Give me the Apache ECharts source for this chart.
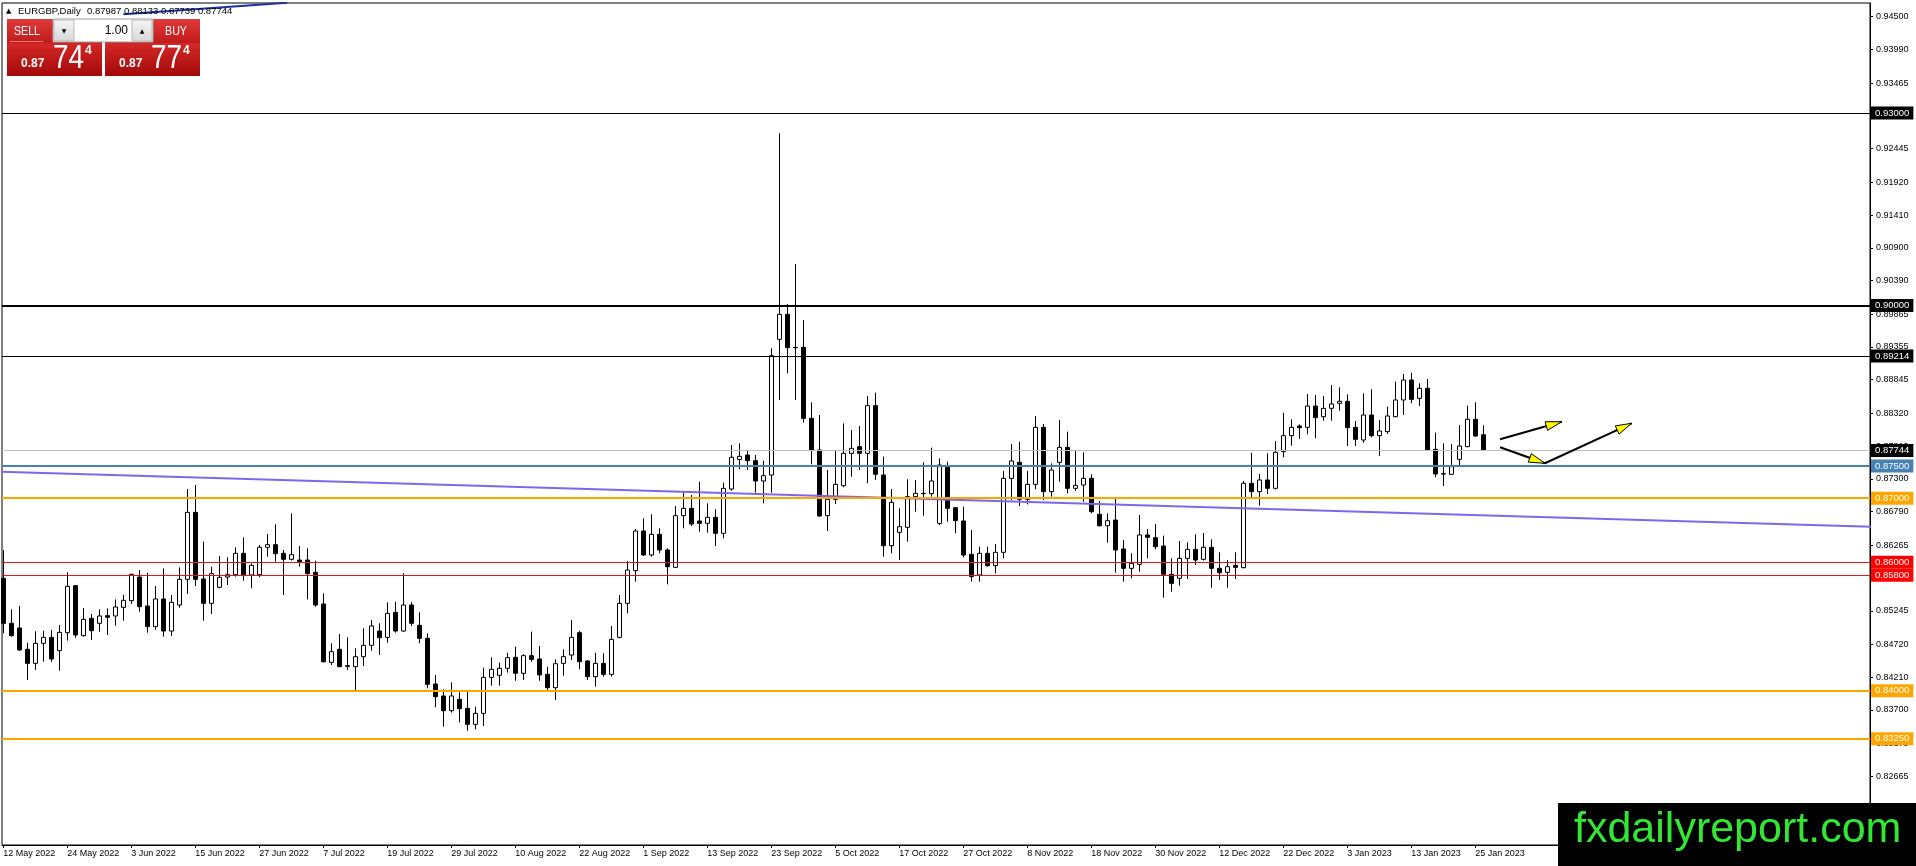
<!DOCTYPE html>
<html><head><meta charset="utf-8">
<script src="https://cdn.jsdelivr.net/npm/echarts@6/dist/echarts.min.js"></script>
<style>html,body{margin:0;padding:0;background:#fff;overflow:hidden}#c{width:1916px;height:866px}</style>
</head><body><div id="c"></div><script>
// ---- data ----
const symbolName = 'EURGBP,Daily';
const headerValues = ['0.87987', '0.88133', '0.87739', '0.87744'];
const dateLabels = ['12 May 2022','24 May 2022','3 Jun 2022','15 Jun 2022','27 Jun 2022','7 Jul 2022','19 Jul 2022','29 Jul 2022','10 Aug 2022','22 Aug 2022','1 Sep 2022','13 Sep 2022','23 Sep 2022','5 Oct 2022','17 Oct 2022','27 Oct 2022','8 Nov 2022','18 Nov 2022','30 Nov 2022','12 Dec 2022','22 Dec 2022','3 Jan 2023','13 Jan 2023','25 Jan 2023'];
const barsPerDateLabel = 8;
const yTickLabels = ['0.94500','0.93990','0.93465','0.92955','0.92445','0.91920','0.91410','0.90900','0.90390','0.89865','0.89355','0.88845','0.88320','0.87810','0.87300','0.86790','0.86265','0.85755','0.85245','0.84720','0.84210','0.83700','0.83175','0.82665'];
// daily bars: [open, high, low, close]
const ohlc = [
[.85751,.86192,.84894,.85050],[.85050,.85268,.84842,.84857],[.84977,.85320,.84619,.84634],[.84645,.84748,.84167,.84426],
[.84426,.84925,.84323,.84738],[.84738,.84935,.84452,.84831],[.84831,.84946,.84452,.84494],[.84624,.85024,.84312,.84909],
[.84904,.85844,.84780,.85626],[.85636,.85647,.84826,.84868],[.84857,.85288,.84842,.85112],[.85127,.85195,.84790,.84935],
[.85050,.85268,.84920,.85164],[.85169,.85283,.84868,.85143],[.85164,.85423,.85013,.85304],[.85299,.85491,.85091,.85408],
[.85403,.85823,.85351,.85813],[.85771,.85880,.85231,.85309],[.85320,.85839,.84904,.84998],[.84998,.85631,.84946,.85429],
[.85429,.85906,.84842,.84930],[.84930,.85491,.84852,.85377],[.85335,.85922,.85294,.85735],[.85735,.87142,.85507,.86779],
[.86779,.87205,.85631,.85735],[.85740,.86322,.85091,.85361],[.85361,.85932,.85195,.85823],[.85610,.86099,.85595,.85766],
[.85771,.86078,.85647,.85808],[.85808,.86234,.85777,.86140],[.86140,.86389,.85714,.85808],[.85803,.85984,.85595,.85953],
[.85808,.86270,.85766,.86234],[.86234,.86441,.86088,.86275],[.86275,.86592,.86010,.86135],[.86140,.86192,.85491,.86047],
[.86047,.86763,.86026,.86119],[.86036,.86254,.85932,.86010],[.86036,.86218,.85423,.85823],[.85844,.86026,.85309,.85335],
[.85351,.85517,.84437,.84452],[.84442,.84738,.84400,.84608],[.84645,.84883,.84370,.84374],[.84390,.84831,.84323,.84380],
[.84374,.84660,.84011,.84530],[.84530,.84972,.84385,.84707],[.84707,.85101,.84624,.85008],[.84930,.85050,.84556,.84826],
[.84831,.85377,.84748,.85205],[.85221,.85387,.84904,.84930],[.84930,.85829,.84920,.85335],[.85335,.85377,.85008,.85050],
[.85018,.85221,.84738,.84816],[.84816,.84894,.84037,.84099],[.84104,.84245,.83741,.83907],[.83918,.84021,.83440,.83689],
[.83689,.84130,.83658,.83918],[.83866,.83975,.83507,.83720],[.83725,.83985,.83377,.83476],[.83476,.83751,.83398,.83647],
[.83647,.84359,.83450,.84208],[.84208,.84520,.84078,.84333],[.84239,.84437,.84078,.84349],[.84349,.84593,.84281,.84515],
[.84520,.84686,.84156,.84271],[.84271,.84572,.84167,.84546],[.84546,.84920,.84452,.84489],[.84494,.84696,.84156,.84245],
[.84255,.84374,.84011,.84047],[.84047,.84489,.83855,.84421],[.84426,.84644,.84234,.84530],[.84556,.85101,.84478,.84831],
[.84904,.84935,.84333,.84452],[.84463,.84478,.84167,.84219],[.84219,.84593,.84063,.84426],[.84426,.84582,.84219,.84255],
[.84255,.85008,.84219,.84800],[.84831,.85491,.84816,.85361],[.85361,.86021,.85205,.85880],[.85870,.86519,.85699,.86488],
[.86488,.86685,.86099,.86114],[.86114,.86748,.86088,.86436],[.86436,.86530,.86140,.86192],[.86192,.86218,.85657,.85932],
[.85922,.86877,.85915,.86727],[.86727,.87085,.86530,.86841],[.86841,.87049,.86566,.86597],[.86644,.87257,.86478,.86607],
[.86607,.86919,.86462,.86701],[.86701,.86826,.86254,.86452],[.86452,.87241,.86374,.87153],[.87142,.87828,.87116,.87636],
[.87604,.87854,.87449,.87651],[.87672,.87750,.87438,.87584],[.87584,.87672,.87085,.87267],[.87267,.87584,.86919,.87350],
[.87360,.89334,.87085,.89219],[.89474,.92683,.88529,.89863],[.89863,.90024,.88944,.89344],[.89349,.90648,.88529,.89344],
[.89349,.89775,.88176,.88243],[.88243,.88492,.87527,.87750],[.87750,.88295,.86711,.86722],[.86727,.87438,.86488,.86981],
[.86981,.87750,.86909,.87215],[.87194,.88165,.87168,.87698],[.87698,.88061,.87334,.87776],[.87802,.88124,.87438,.87698],
[.87698,.88591,.87231,.88441],[.88441,.88643,.87283,.87371],[.87360,.87646,.86088,.86259],[.86259,.87142,.86140,.86935],
[.86467,.86841,.86036,.86555],[.86545,.87293,.86322,.87023],[.87023,.87283,.86789,.87075],[.87075,.87558,.86727,.87070],
[.87070,.87786,.87023,.87267],[.86607,.87620,.86580,.87516],[.87506,.87568,.86633,.86841],[.86851,.86860,.86452,.86649],
[.86644,.86867,.86078,.86114],[.86124,.86504,.85699,.85777],[.85803,.86244,.85699,.86140],[.86140,.86244,.85932,.85948],
[.85948,.86285,.85828,.86156],[.86156,.87423,.86062,.87308],[.87308,.87843,.86971,.87579],[.87558,.87880,.86877,.86981],
[.86981,.87423,.86903,.87215],[.87215,.88280,.87137,.88103],[.88103,.88155,.86971,.87101],[.87101,.87542,.87023,.87438],
[.87558,.88217,.87257,.87791],[.87791,.88036,.87075,.87153],[.87153,.87750,.87116,.87199],[.87205,.87714,.86945,.87308],
[.87308,.87371,.86763,.86789],[.86748,.86955,.86555,.86571],[.86571,.86763,.86306,.86649],[.86659,.86987,.85839,.86192],
[.86208,.86348,.85699,.85906],[.85906,.86140,.85751,.85984],[.85969,.86737,.85854,.86426],[.86426,.86519,.86062,.86389],
[.86384,.86597,.86202,.86244],[.86254,.86415,.85449,.85813],[.85813,.86062,.85543,.85673],[.85751,.86332,.85636,.86062],
[.86062,.86311,.85740,.86202],[.86202,.86436,.85958,.86036],[.86047,.86457,.86026,.86234],[.86234,.86358,.85605,.85906],
[.85906,.86156,.85725,.85839],[.85844,.86036,.85605,.85932],[.85953,.86156,.85740,.85922],[.85917,.87267,.85906,.87231],
[.87231,.87708,.87007,.87101],[.87101,.87376,.86883,.87283],[.87283,.87698,.87064,.87153],[.87153,.87890,.87137,.87714],
[.87724,.88332,.87636,.87973],[.87973,.88228,.87817,.88103],[.88124,.88150,.87921,.88098],[.88103,.88622,.87994,.88435],
[.88435,.88607,.87932,.88254],[.88269,.88591,.88207,.88399],[.88399,.88763,.88207,.88467],[.88477,.88726,.88363,.88508],
[.88508,.88617,.87812,.88098],[.88103,.88202,.87812,.87916],[.87906,.88633,.87864,.88295],[.88295,.88695,.87947,.87973],
[.87973,.88217,.87656,.88046],[.88036,.88425,.87999,.88280],[.88269,.88815,.88259,.88529],[.88529,.88934,.88295,.88840],
[.88840,.88955,.88477,.88539],[.88555,.88789,.88435,.88711],[.88711,.88856,.87740,.87750],[.87760,.88020,.87324,.87376],
[.87380,.87854,.87189,.87376],[.87371,.87843,.87360,.87490],[.87604,.88139,.87501,.87812],[.87802,.88441,.87792,.88228],
[.88228,.88493,.87958,.87968],[.87987,.88133,.87739,.87744]
];
// horizontal levels
const levels = [0.93000, 0.90000, 0.89214, 0.87744, 0.87500, 0.87000, 0.86000, 0.85800, 0.84000, 0.83250];
// trend lines: [barIndex, price]
const purpleTrend = [[-1, 0.87414], [234, 0.86553]];
const blueTrend = [[15, 0.94538], [35.5, 0.94718]];
// arrows: [fromBar, fromPrice, toBar, toPrice]
const arrowLines = [[187.1, 0.87917, 194.8, 0.88191], [187.1, 0.87792, 192.7, 0.87543], [192.7, 0.87543, 203.55, 0.88166]];
const sellPrice = ['0.87', '74', '4'];
const buyPrice = ['0.87', '77', '4'];
const lotSize = '1.00';
const watermark = 'fxdailyreport.com';

// ---- styles ----
const levelStyles = [
  {color:'#000000', width:1, bg:'#000000'},
  {color:'#000000', width:2, bg:'#000000'},
  {color:'#000000', width:1, bg:'#000000'},
  {color:'#c0c0c0', width:1, bg:'#000000'},
  {color:'#4682b4', width:2, bg:'#4682b4'},
  {color:'#ffa500', width:2, bg:'#ffa500'},
  {color:'#e5141c', width:1, bg:'#ff0000'},
  {color:'#e5141c', width:1, bg:'#ff0000'},
  {color:'#ffa500', width:2, bg:'#ffa500'},
  {color:'#ffa500', width:2, bg:'#ffa500'}
];
const FONT = '"Liberation Sans", Arial, sans-serif';
const X_MIN = -0.1625, X_MAX = 233.3375;
const Y_MAX = 0.947137, Y_MIN = 0.815962;

const chart = echarts.init(document.getElementById('c'), null, {renderer:'canvas'});

const candleData = ohlc.map((r, i) => [i, r[0], r[3], r[2], r[1]]);
const xTickPos = dateLabels.map((_, k) => k * barsPerDateLabel);
const yTicks = yTickLabels.map(Number);

const markLineData = levels.map((v, i) => ({
  yAxis: v,
  lineStyle: {color: levelStyles[i].color, width: levelStyles[i].width, type: 'solid'},
  label: {show: true, position: 'end', distance: 1, formatter: () => v.toFixed(5),
    backgroundColor: levelStyles[i].bg, color: '#fff', fontSize: 9.5, fontFamily: FONT,
    padding: [2, 4, 1, 4], lineHeight: 10}
}));

const red = (a, b) => new echarts.graphic.LinearGradient(0, 0, 0, 1, [{offset:0, color:a}, {offset:1, color:b}]);
const grey = () => new echarts.graphic.LinearGradient(0, 0, 0, 1, [{offset:0, color:'#f6f6f6'}, {offset:1, color:'#d8d8d8'}]);
const Z = 100;
function txt(x, y, text, font, opts) {
  return Object.assign({type:'text', x, y, z: Z, silent: true,
    style: Object.assign({text, font, fill:'#fff', verticalAlign:'middle', align:'left'}, (opts && opts.style) || {})},
    (opts && opts.el) || {});
}
function pricePanel(x0, label, price) {
  return [
    {type:'rect', z:Z, silent:true, shape:{x:x0, y:19, width:95, height:24}, style:{fill: red('#e03a3a', '#c21a1a')}},
    {type:'rect', z:Z, silent:true, shape:{x:x0, y:43, width:95, height:33}, style:{fill: red('#d42828', '#a30909')}},
    {type:'rect', z:Z, silent:true, shape:{x:x0 + 3, y:41, width:33, height:1}, style:{fill:'#f08080'}},
    txt(x0 + 14, 68 - 4.5, price[0], 'bold 12px ' + FONT),
    txt(x0 + 46, 71 - 12, price[1], '34px ' + FONT, {el:{scaleX:0.82}}),
    txt(x0 + 78, 55 - 4.5, price[2], 'bold 12px ' + FONT)
  ];
}
const graphics = [].concat(
  pricePanel(7, 'SELL', sellPrice),
  pricePanel(105, 'BUY', buyPrice),
  [
    txt(27, 31, 'SELL', '13px ' + FONT, {style:{align:'center'}, el:{scaleX:0.82}}),
    txt(176, 31, 'BUY', '13px ' + FONT, {style:{align:'center'}, el:{scaleX:0.82}}),
    {type:'rect', z:Z+1, silent:true, shape:{x:53, y:19, width:100, height:23}, style:{fill:'#fff', stroke:'#a0a0a0', lineWidth:1}},
    {type:'rect', z:Z+2, silent:true, shape:{x:54, y:20, width:20, height:21}, style:{fill:grey(), stroke:'#b8b8b8', lineWidth:1}},
    {type:'rect', z:Z+2, silent:true, shape:{x:132, y:20, width:20, height:21}, style:{fill:grey(), stroke:'#b8b8b8', lineWidth:1}},
    txt(64, 31, '▼', '6px "DejaVu Sans"', {style:{align:'center', fill:'#000'}, el:{z:Z+3}}),
    txt(142, 31, '▲', '6px "DejaVu Sans"', {style:{align:'center', fill:'#000'}, el:{z:Z+3}}),
    txt(128, 31, lotSize, '12px ' + FONT, {style:{align:'right', fill:'#000'}, el:{z:Z+3}}),
    txt(6, 11, '▲', '7px "DejaVu Sans"', {style:{fill:'#000'}}),
    txt(18, 11, symbolName, '9.5px ' + FONT, {style:{fill:'#000'}}),
    txt(87, 11, headerValues.join(' '), '9.5px ' + FONT, {style:{fill:'#000'}}),
    {type:'rect', z:Z, silent:true, shape:{x:1558, y:803, width:358, height:63}, style:{fill:'#000'}},
    txt(1574, 830, watermark, '43px ' + FONT, {style:{fill:'#33e633'}})
  ]
);

chart.setOption({
  animation: false,
  backgroundColor: '#fff',
  grid: {left:2, right:46, top:3, bottom:21, show:true, borderColor:'#000', borderWidth:1, backgroundColor:'#fff'},
  xAxis: {
    type:'value', min:X_MIN, max:X_MAX,
    splitLine:{show:false},
    axisLine:{show:true, onZero:false, lineStyle:{color:'#000', width:1}},
    axisTick:{show:true, length:3, customValues: xTickPos, lineStyle:{color:'#000'}},
    axisLabel:{customValues: xTickPos, formatter: v => dateLabels[Math.round(v / barsPerDateLabel)] || '',
      align:'left', color:'#000', fontSize:9, fontFamily:FONT, margin:4}
  },
  yAxis: {
    type:'value', position:'right', min:Y_MIN, max:Y_MAX, scale:true,
    splitLine:{show:false},
    axisLine:{show:true, onZero:false, lineStyle:{color:'#000', width:1}},
    axisTick:{show:true, length:3, customValues: yTicks, lineStyle:{color:'#000'}},
    axisLabel:{customValues: yTicks, formatter: v => v.toFixed(5), color:'#000', fontSize:9, fontFamily:FONT, margin:6}
  },
  series: [
    {
      type:'candlestick', data: candleData, barWidth: 4, z: 2, silent: true,
      itemStyle:{color:'#fff', color0:'#000', borderColor:'#000', borderColor0:'#000', borderColorDoji:'#000', borderWidth:1}
    },
    {
      type:'line', data: purpleTrend, z: 3, silent: true, showSymbol:false, symbol:'none', clip:true,
      lineStyle:{color:'#7b68ee', width:2},
      markLine:{silent:true, symbol:['none','none'], precision:5, animation:false, data: markLineData}
    },
    {
      type:'line', data: blueTrend, z: 3, silent: true, showSymbol:false, symbol:'none', clip:true,
      lineStyle:{color:'#1f2fa6', width:2}
    },
    {
      type:'custom', data: arrowLines, z: 6, silent: true, encode:{x:[0,2], y:[1,3]},
      renderItem: (params, api) => {
        const a = api.coord([api.value(0), api.value(1)]);
        const b = api.coord([api.value(2), api.value(3)]);
        const dx = b[0]-a[0], dy = b[1]-a[1], len = Math.hypot(dx, dy);
        const ux = dx/len, uy = dy/len, L = 16, W = 4.5;
        const bx = b[0]-ux*L, by = b[1]-uy*L;
        return {type:'group', children:[
          {type:'line', shape:{x1:a[0], y1:a[1], x2:b[0], y2:b[1]}, style:{stroke:'#000', lineWidth:2}},
          {type:'polygon', shape:{points:[[b[0], b[1]], [bx - uy*W, by + ux*W], [bx + uy*W, by - ux*W]]},
            style:{fill:'#ffff00', stroke:'#000', lineWidth:1}}
        ]};
      }
    }
  ],
  graphic: graphics
});
</script></body></html>
